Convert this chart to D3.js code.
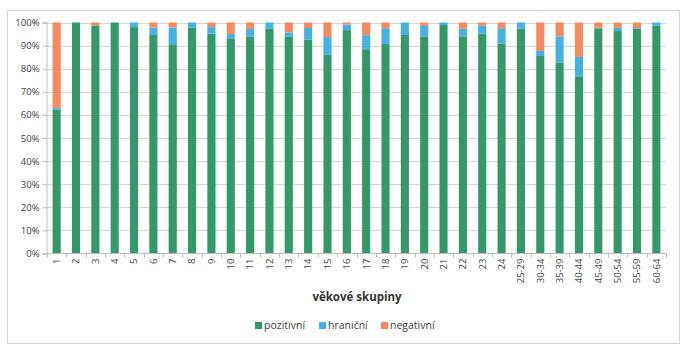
<!DOCTYPE html>
<html><head><meta charset="utf-8">
<script src="https://cdn.jsdelivr.net/npm/d3@7"></script>
<style>body{margin:0;background:#fff}svg{display:block}text{font-family:"Open Sans","Noto Sans",sans-serif}</style>
</head><body><div id="c"></div>
<script>
const categories = ["1","2","3","4","5","6","7","8","9","10","11","12","13","14","15","16","17","18","19","20","21","22","23","24","25-29","30-34","35-39","40-44","45-49","50-54","55-59","60-64"];
const pozitivni = [62.3,100,98.5,100,98,94.6,90.6,97.7,95.1,92.9,93.8,97.4,93.8,92.6,86,96.7,88.4,90.7,94.6,94,98.9,94,95.2,90.8,97.3,85.5,82.7,76.7,97.5,96.3,97.4,98.6];
const hranicni  = [0.7,0,0.3,0,2,3.2,7.2,2.3,2.9,2.1,3.4,2.6,1.9,5,7.7,2.4,6.1,6.8,5.4,4.5,1.1,3.3,3.5,6.7,2.7,2.2,11.3,8.4,0.2,1.4,0.2,1.4];
const negativni = [37,0,1.2,0,0,2.2,2.2,0,2,5,2.8,0,4.3,2.4,6.3,0.9,5.5,2.5,0,1.5,0,2.7,1.3,2.5,0,12.3,6,14.9,2.3,2.3,2.4,0];
const seriesNames = ["pozitivní","hraniční","negativní"];
const yTicks = [0,10,20,30,40,50,60,70,80,90,100];
const colors = ["#34996a","#46b2e2","#f38a60"];

const W=690,H=350;
const svg=d3.select("#c").append("svg").attr("width",W).attr("height",H);
svg.append("rect").attr("x",7.5).attr("y",10.5).attr("width",672).attr("height",333).attr("fill","none").attr("stroke","#d4d4d4");

const x=d3.scaleBand().domain(categories).range([47,666]).paddingInner(0.58).paddingOuter(0.29);
const y=d3.scaleLinear().domain([0,100]).range([253.5,22.5]);

const g=svg.append("g");
g.selectAll("line.grid").data(yTicks.slice(1)).join("line")
 .attr("x1",46).attr("x2",666).attr("y1",d=>Math.round(y(d))+0.5).attr("y2",d=>Math.round(y(d))+0.5)
 .attr("stroke","#d6d6d6");

const rows=categories.map((c,i)=>({cat:c,"pozitivní":pozitivni[i],"hraniční":hranicni[i],"negativní":negativni[i]}));
const stack=d3.stack().keys(seriesNames)(rows);
stack.forEach((s,si)=>{
 g.selectAll(null).data(s).join("rect")
  .attr("x",d=>x(d.data.cat)).attr("width",x.bandwidth())
  .attr("y",d=>y(d[1])).attr("height",d=>Math.max(0,y(d[0])-y(d[1])))
  .attr("fill",colors[si]);
});

const ya=d3.axisLeft(y).tickValues(yTicks).tickFormat(d=>d+"%").tickSize(4).tickPadding(3);
const yg=svg.append("g").attr("transform","translate(46.5,0)").call(ya);
yg.select(".domain").attr("stroke","#bdbdbd");
yg.selectAll(".tick line").attr("stroke","#bdbdbd");
yg.selectAll("text").attr("fill","#444").style("font-size","9.5px");

const xa=d3.axisBottom(x).tickSize(0).tickPadding(0);
const xg=svg.append("g").attr("transform","translate(0,253.5)").call(xa);
xg.select(".domain").attr("stroke","#bdbdbd").attr("d","M46,0H666");
xg.selectAll("text").attr("fill","#444").style("font-size","9.5px")
 .attr("transform","rotate(-90)").attr("text-anchor","end").attr("x",-5).attr("y",0).attr("dy","0.35em");
// category separator ticks
const step=x.step(), gap=(step-x.bandwidth())/2;
xg.selectAll("line.sep").data(d3.range(categories.length+1)).join("line")
 .attr("x1",d=>Math.round(x(categories[0])-gap+d*step)+0.5)
 .attr("x2",d=>Math.round(x(categories[0])-gap+d*step)+0.5)
 .attr("y1",0).attr("y2",4).attr("stroke","#bdbdbd");

svg.append("text").attr("x",357).attr("y",301).attr("text-anchor","middle")
 .style("font-size","11.5px").style("font-weight","bold").attr("fill","#333").text("věkové skupiny");

const legX=[255,319,381];
const lg=svg.append("g");
seriesNames.forEach((n,i)=>{
 lg.append("rect").attr("x",legX[i]).attr("y",322).attr("width",7).attr("height",7).attr("fill",colors[i]);
 lg.append("text").attr("x",legX[i]+9).attr("y",329).style("font-size","10.5px").attr("fill","#444").text(n);
});
</script></body></html>
